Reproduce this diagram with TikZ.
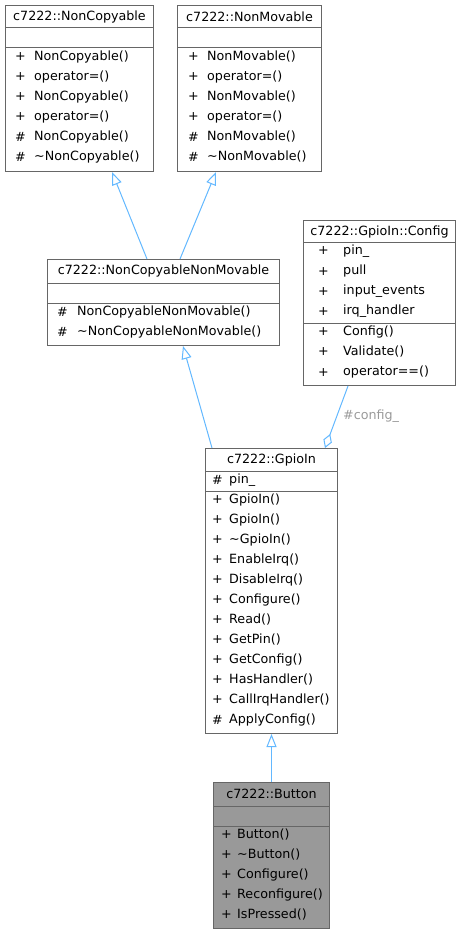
\documentclass[tikz,border=0pt]{standalone}
\usepackage{fontspec}
\setmainfont{DejaVu Sans}
\usetikzlibrary{arrows.meta}
\definecolor{edgeblue}{HTML}{63B8FF}
\definecolor{boxgray}{HTML}{666666}
\definecolor{labelgray}{HTML}{9A9A9A}
\definecolor{classfill}{HTML}{999999}
\begin{document}
\begin{tikzpicture}[x=1pt, y=-1pt,
  every node/.style={font=\fontsize{12.7}{15}\selectfont, inner sep=0pt},
  umlbox/.style n args={2}{draw=boxgray, line width=1pt, fill=white, anchor=north west,
    minimum width=#1, minimum height=#2},
  sep/.style={draw=boxgray, line width=1pt},
  member/.style={anchor=west},
  inherit/.style={draw=edgeblue, line width=1pt,
    -{Triangle[open, length=13pt, width=10pt, fill=white]}},
  aggregate/.style={draw=edgeblue, line width=1pt,
    -{Diamond[open, length=15pt, width=9pt, fill=white]}}]
  \useasboundingbox (0,0) rectangle (461,933);
  % class boxes
  \node[umlbox={148pt}{166pt}] (noncopyable) at (5,5) {};
  \node[umlbox={144pt}{166pt}] (nonmovable) at (177,5) {};
  \node[umlbox={232pt}{86pt}] (ncnm) at (47,259) {};
  \node[umlbox={152pt}{165pt}] (config) at (303,220) {};
  \node[umlbox={132pt}{285pt}] (gpioin) at (205,448) {};
  \node[umlbox={116pt}{146pt}, fill=classfill] (button) at (213,782) {};
  % compartments
  \foreach \b/\ya/\yb in {noncopyable/28/48, nonmovable/28/48, ncnm/283/303,
      config/242/323, gpioin/471/491, button/806/826} {
    \draw[sep] (\b.west |- 0,\ya) -- (\b.east |- 0,\ya);
    \draw[sep] (\b.west |- 0,\yb) -- (\b.east |- 0,\yb);
  }
  % titles
  \node (noncopyable-title) at ([yshift=-12pt]noncopyable.north) {c7222::NonCopyable};
  \node (nonmovable-title) at ([yshift=-12pt]nonmovable.north) {c7222::NonMovable};
  \node (ncnm-title) at ([yshift=-12pt]ncnm.north) {c7222::NonCopyableNonMovable};
  \node (config-title) at ([yshift=-12pt]config.north) {c7222::GpioIn::Config};
  \node (gpioin-title) at ([yshift=-12pt]gpioin.north) {c7222::GpioIn};
  \node (button-title) at ([yshift=-12pt]button.north) {c7222::Button};
  % members
  \foreach \v/\m [count=\i from 0] in {+/NonCopyable(), +/operator=(), +/NonCopyable(),
      +/operator=(), \#/NonCopyable(), \#/\textasciitilde NonCopyable()} {
    \node[member] (noncopyable-v\i) at (15,57+20*\i) {\v};
    \node[member] (noncopyable-m\i) at (34,57+20*\i) {\m};
  }
  \foreach \v/\m [count=\i from 0] in {+/NonMovable(), +/operator=(), +/NonMovable(),
      +/operator=(), \#/NonMovable(), \#/\textasciitilde NonMovable()} {
    \node[member] (nonmovable-v\i) at (188,57+20*\i) {\v};
    \node[member] (nonmovable-m\i) at (207,57+20*\i) {\m};
  }
  \foreach \v/\m [count=\i from 0] in {\#/NonCopyableNonMovable(),
      \#/\textasciitilde NonCopyableNonMovable()} {
    \node[member] (ncnm-v\i) at (57,312+20*\i) {\v};
    \node[member] (ncnm-m\i) at (77,312+20*\i) {\m};
  }
  \foreach \v/\m [count=\i from 0] in {+/pin\_, +/pull, +/input\_events, +/irq\_handler,
      +/Config(), +/Validate(), +/operator==()} {
    \node[member] (config-v\i) at (318,251+20.17*\i) {\v};
    \node[member] (config-m\i) at (343,251+20.17*\i) {\m};
  }
  \foreach \v/\m [count=\i from 0] in {\#/pin\_, +/GpioIn(), +/GpioIn(),
      +/\textasciitilde GpioIn(), +/EnableIrq(), +/DisableIrq(), +/Configure(), +/Read(),
      +/GetPin(), +/GetConfig(), +/HasHandler(), +/CallIrqHandler(), \#/ApplyConfig()} {
    \node[member] (gpioin-v\i) at (212,480+20*\i) {\v};
    \node[member] (gpioin-m\i) at (229,480+20*\i) {\m};
  }
  \foreach \v/\m [count=\i from 0] in {+/Button(), +/\textasciitilde Button(),
      +/Configure(), +/Reconfigure(), +/IsPressed()} {
    \node[member] (button-v\i) at (221,835+20*\i) {\v};
    \node[member] (button-m\i) at (237,835+20*\i) {\m};
  }
  % relations
  \draw[inherit] ([xshift=100pt]ncnm.north west) -- ([xshift=107pt]noncopyable.south west);
  \draw[inherit] ([xshift=133pt]ncnm.north west) -- ([xshift=39pt]nonmovable.south west);
  \draw[inherit] ([xshift=7pt]gpioin.north west) -- ([xshift=136pt]ncnm.south west);
  \draw[aggregate] ([xshift=45pt]config.south west) -- ([xshift=120pt]gpioin.north west);
  \draw[inherit] (button.north) -- (gpioin.south);
  \node[member, labelgray] (config-label) at (343,416) {\#config\_};
\end{tikzpicture}
\end{document}
